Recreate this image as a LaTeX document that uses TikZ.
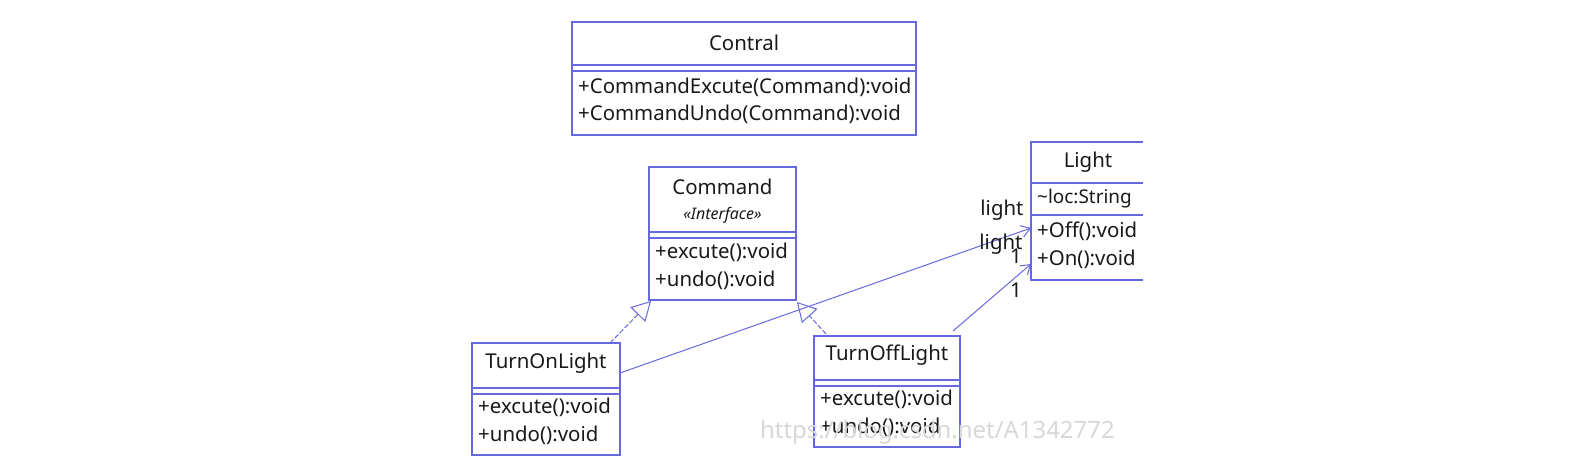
\documentclass[tikz,border=0pt]{standalone}
\usepackage{fontspec}
\setmainfont{Noto Sans}
\usetikzlibrary{arrows.meta}
\definecolor{uml}{RGB}{104,104,222}
\definecolor{wm}{RGB}{215,215,215}
\tikzset{
  x=1bp,y=-1bp,
  box/.style={draw=uml,line width=1.3pt,rectangle,inner sep=0pt},
  sep/.style={draw=uml,line width=1.3pt},
  txt/.style={inner sep=0pt,font=\fontsize{20.5}{22}\selectfont,text=black!90},
  ttl/.style={inner sep=0pt,font=\fontsize{20.5}{22}\selectfont,text=black!90},
  stereo/.style={inner sep=0pt,font=\fontsize{16}{18}\selectfont\itshape,text=black!90},
  real/.style={draw=uml,line width=1pt,dashed,dash pattern=on 5pt off 2pt,-{Triangle[open,length=19pt,width=21pt]}},
  assoc/.style={draw=uml,line width=1pt,-{Straight Barb[length=9pt,width=12pt]}},
  lbl/.style={inner sep=0pt,font=\fontsize{20.5}{22}\selectfont,text=black!90},
}
\begin{document}
\begin{tikzpicture}
\useasboundingbox (0,0) rectangle (1576,473);
% Contral
\draw[box] (572,22) rectangle (916,135);
\node[minimum width=344bp,minimum height=113bp,inner sep=0pt] (contral) at (744,78.5) {};
\draw[sep] (572,65) -- (916,65);
\draw[sep] (572,71) -- (916,71);
\node[ttl] (contralT) at (744,43) {Contral};
\node[txt,anchor=west] (c1) at (578,87) {+CommandExcute(Command):void};
\node[txt,anchor=west] (c2) at (578,114) {+CommandUndo(Command):void};
% Command
\draw[box] (649,167) rectangle (796,300);
\node[minimum width=147bp,minimum height=133bp,inner sep=0pt] (command) at (722.5,233.5) {};
\draw[sep] (649,232) -- (796,232);
\draw[sep] (649,238) -- (796,238);
\node[ttl] (commandT) at (722.5,187) {Command};
\node[stereo] (commandS) at (722.5,215) {«Interface»};
\node[txt,anchor=west] (m1) at (655,252) {+excute():void};
\node[txt,anchor=west] (m2) at (655,280) {+undo():void};
% Light (right edge cut)
\draw[box] (1143,142) -- (1031,142) -- (1031,280) -- (1143,280);
\node[minimum width=112bp,minimum height=138bp,inner sep=0pt] (light) at (1087,211) {};
\draw[sep] (1031,183) -- (1143,183);
\draw[sep] (1031,215) -- (1143,215);
\node[ttl] (lightT) at (1088,162) {Light};
\node[txt,anchor=west,font=\fontsize{19}{20}\selectfont] (l0) at (1037,199) {\textasciitilde loc:String};
\node[txt,anchor=west] (l1) at (1037,231) {+Off():void};
\node[txt,anchor=west] (l2) at (1037,259) {+On():void};
% TurnOnLight
\draw[box] (472,343) rectangle (620,455);
\node[minimum width=148bp,minimum height=112bp,inner sep=0pt] (on) at (546,399) {};
\draw[sep] (472,388) -- (620,388);
\draw[sep] (472,394) -- (620,394);
\node[ttl] (onT) at (546,363) {TurnOnLight};
\node[txt,anchor=west] (o1) at (478,407) {+excute():void};
\node[txt,anchor=west] (o2) at (478,435) {+undo():void};
% TurnOffLight
\draw[box] (814,336) rectangle (960,447);
\node[minimum width=146bp,minimum height=111bp,inner sep=0pt] (off) at (887,391.5) {};
\draw[sep] (814,380) -- (960,380);
\draw[sep] (814,386) -- (960,386);
\node[ttl] (offT) at (887,355) {TurnOffLight};
\node[txt,anchor=west] (f1) at (820,399) {+excute():void};
\node[txt,anchor=west] (f2) at (820,427) {+undo():void};
% watermark
\node[inner sep=0pt,font=\fontsize{24}{26}\selectfont,text=wm,anchor=west] (wmk) at (760,432) {https://blog.csdn.net/A1342772};
% connectors
\coordinate (onTop) at (610,343);
\coordinate (cmdBL) at (651,301);
\coordinate (offTop) at (826,334);
\coordinate (cmdBR) at (797,302);
\draw[real] (onTop) -- (cmdBL);
\draw[real] (offTop) -- (cmdBR);
\coordinate (onR) at (620,373);
\coordinate (lightA) at (1031,228);
\coordinate (offR) at (953,331);
\coordinate (lightB) at (1031,264);
\draw[assoc] (onR) -- (lightA);
\draw[assoc] (offR) -- (lightB);
\node[lbl] (la) at (1002,210) {light};
\node[lbl] (lb) at (1001,244) {light};
\node[lbl] (n1) at (1016,256) {1};
\node[lbl] (n2) at (1016,290) {1};
\end{tikzpicture}
\end{document}
